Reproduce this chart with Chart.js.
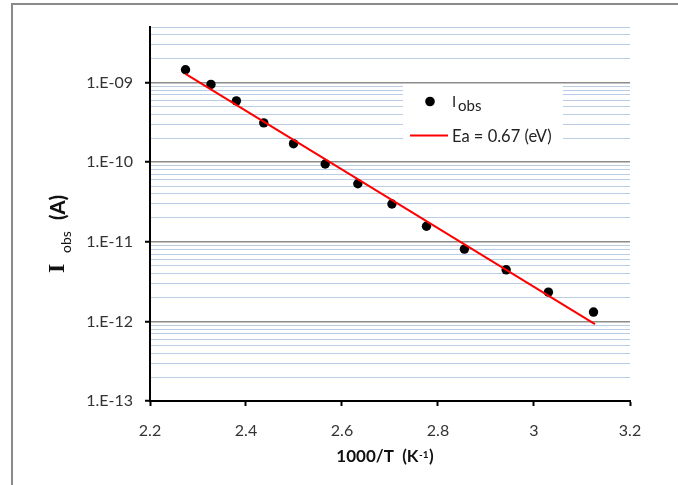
<!DOCTYPE html>
<html>
<head>
<meta charset="utf-8">
<script src="https://cdn.jsdelivr.net/npm/chart.js@4/dist/chart.umd.min.js"></script>
<style>
  html, body { margin: 0; padding: 0; background: #fff; }
  #wrap { width: 678px; height: 485px; position: relative; }
</style>
</head>
<body>
<div id="wrap"><canvas id="c" width="678" height="485"></canvas></div>
<script>
// ---- data ----
const xValues = [2.274, 2.327, 2.380, 2.437, 2.499, 2.565, 2.633, 2.704, 2.776, 2.855, 2.942, 3.030, 3.124];
const yValues = [1.45e-9, 9.5e-10, 5.9e-10, 3.12e-10, 1.71e-10, 9.5e-11, 5.37e-11, 2.99e-11, 1.57e-11, 8.1e-12, 4.45e-12, 2.33e-12, 1.31e-12];
const fitX = [2.274, 3.127];
const fitY = [1.285e-9, 9.25e-13];

const xTickValues = [2.2, 2.4, 2.6, 2.8, 3.0, 3.2];
const xTickLabels = ['2.2', '2.4', '2.6', '2.8', '3', '3.2'];
const yMajorValues = [1e-13, 1e-12, 1e-11, 1e-10, 1e-9];
const yTickLabels = ['1.E-13', '1.E-12', '1.E-11', '1.E-10', '1.E-09'];
const yMin = 1e-13, yMax = 5e-9;

const seriesLabel = 'I';
const seriesLabelSub = 'obs';
const fitLabel = 'Ea = 0.67 (eV)';
const xTitleMain = '1000/T  (K';
const xTitleSup = '-1';
const xTitleEnd = ')';
const yTitleMain = 'I';
const yTitleSub = 'obs';
const yTitleUnit = '(A)';

// ---- helpers ----
function isMajor(v) {
  const l = Math.log10(v);
  return Math.abs(l - Math.round(l)) < 1e-6;
}
function yGridValues() {
  const out = [];
  for (let e = -13; e <= -9; e++) {
    for (let m = 1; m <= 9; m++) {
      const v = m * Math.pow(10, e);
      if (v <= yMax * 1.0000001) out.push(v);
    }
  }
  return out;
}

const pts = xValues.map((x, i) => ({ x: x, y: yValues[i] }));
const fitPts = fitX.map((x, i) => ({ x: x, y: fitY[i] }));

const FONT = 'Lato, "Liberation Sans", sans-serif';

const decorPlugin = {
  id: 'decor',
  beforeDraw(chart) {
    const ctx = chart.ctx;
    ctx.save();
    ctx.fillStyle = '#fff';
    ctx.fillRect(0, 0, chart.width, chart.height);
    ctx.strokeStyle = '#8a8a8a';
    ctx.lineWidth = 2;
    ctx.beginPath();
    ctx.moveTo(12, 485);
    ctx.lineTo(12, 4);
    ctx.lineTo(678, 4);
    ctx.stroke();
    ctx.restore();
  },
  beforeDatasetsDraw(chart) {
    const ctx = chart.ctx;
    ctx.save();
    // legend box (white, covers gridlines)
    ctx.fillStyle = '#fff';
    ctx.fillRect(403, 84, 160, 68);
    // marker
    ctx.fillStyle = '#000';
    ctx.beginPath();
    ctx.arc(430, 101.5, 4.8, 0, Math.PI * 2);
    ctx.fill();
    ctx.fillStyle = '#222';
    ctx.textBaseline = 'alphabetic';
    ctx.textAlign = 'left';
    ctx.font = '15px ' + FONT;
    ctx.fillText(seriesLabel, 452, 106.5);
    ctx.font = '15px ' + FONT;
    ctx.fillText(seriesLabelSub, 458, 111);
    // fit line sample
    ctx.strokeStyle = '#ff0000';
    ctx.lineWidth = 2;
    ctx.beginPath();
    ctx.moveTo(410, 135.5);
    ctx.lineTo(448, 135.5);
    ctx.stroke();
    ctx.font = '16.5px ' + FONT;
    ctx.fillText(fitLabel, 452, 141.5);
    ctx.restore();
  },
  afterDraw(chart) {
    const ctx = chart.ctx;
    ctx.save();
    ctx.fillStyle = '#111';
    ctx.textBaseline = 'alphabetic';
    ctx.textAlign = 'left';
    // x title
    const fMain = 'bold 17px ' + FONT;
    const fSup = 'bold 10px ' + FONT;
    ctx.font = fMain;
    const w1 = ctx.measureText(xTitleMain).width;
    const w3 = ctx.measureText(xTitleEnd).width;
    ctx.font = fSup;
    const w2 = ctx.measureText(xTitleSup).width;
    const total = w1 + w2 + 1 + w3;
    const x0 = 385 - total / 2;
    const by = 462;
    ctx.font = fMain;
    ctx.fillText(xTitleMain, x0, by);
    ctx.font = fSup;
    ctx.fillText(xTitleSup, x0 + w1 + 0.5, by - 4);
    ctx.font = fMain;
    ctx.fillText(xTitleEnd, x0 + w1 + w2 + 1, by);
    // y title (rotated)
    ctx.translate(64, 273);
    ctx.rotate(-Math.PI / 2);
    ctx.font = 'bold 24px "Liberation Serif", serif';
    ctx.fillText(yTitleMain, 0, 0);
    ctx.font = '14px ' + FONT;
    ctx.fillText(yTitleSub, 20, 7);
    ctx.font = '900 20px ' + FONT;
    ctx.fillText(yTitleUnit, 53, 1);
    ctx.restore();
  }
};

new Chart(document.getElementById('c'), {
  data: {
    datasets: [
      {
        type: 'line',
        label: fitLabel,
        data: fitPts,
        borderColor: '#ff0000',
        borderWidth: 2,
        pointRadius: 0,
        fill: false,
        tension: 0,
        order: 0
      },
      {
        type: 'scatter',
        label: seriesLabel + seriesLabelSub,
        data: pts,
        backgroundColor: '#000',
        borderColor: '#000',
        pointRadius: 4.7,
        pointBorderWidth: 0,
        order: 1
      }
    ]
  },
  options: {
    responsive: false,
    animation: false,
    events: [],
    layout: { padding: { left: 0, right: 48, top: 27, bottom: 0 } },
    plugins: {
      legend: { display: false },
      tooltip: { enabled: false },
      title: { display: false }
    },
    scales: {
      x: {
        type: 'linear',
        min: 2.2,
        max: 3.2,
        afterBuildTicks(scale) {
          scale.ticks = xTickValues.map(v => ({ value: v }));
        },
        afterFit(scale) { scale.height = 84; },
        ticks: {
          autoSkip: false,
          maxRotation: 0,
          padding: 15,
          color: '#333',
          font: { family: FONT, size: 16 },
          callback(value) {
            const i = xTickValues.findIndex(v => Math.abs(v - value) < 1e-9);
            return i >= 0 ? xTickLabels[i] : '';
          }
        },
        grid: {
          drawOnChartArea: false,
          drawTicks: true,
          tickLength: 5,
          tickWidth: 2,
          tickColor: '#000'
        },
        border: { color: '#000', width: 2 }
      },
      y: {
        type: 'logarithmic',
        min: yMin,
        max: yMax,
        afterBuildTicks(scale) {
          scale.ticks = yGridValues().map(v => ({ value: v }));
        },
        afterFit(scale) { scale.width = 150; },
        ticks: {
          autoSkip: false,
          padding: 12,
          color: '#333',
          font: { family: FONT, size: 16 },
          callback(value) {
            const i = yMajorValues.findIndex(v => Math.abs(v - value) / v < 1e-6);
            return i >= 0 ? yTickLabels[i] : '';
          }
        },
        grid: {
          drawOnChartArea: true,
          drawTicks: true,
          tickLength: 5,
          tickWidth: 2,
          color(ctx) {
            const v = ctx.tick && ctx.tick.value;
            if (!v) return 'rgba(0,0,0,0)';
            return isMajor(v) ? '#8c8c8c' : '#b9cde5';
          },
          lineWidth(ctx) {
            const v = ctx.tick && ctx.tick.value;
            return v && isMajor(v) ? 1.5 : 1;
          },
          tickColor(ctx) {
            const v = ctx.tick && ctx.tick.value;
            return v && isMajor(v) ? '#000' : 'rgba(0,0,0,0)';
          }
        },
        border: { color: '#000', width: 2 }
      }
    }
  },
  plugins: [decorPlugin]
});
</script>
</body>
</html>
